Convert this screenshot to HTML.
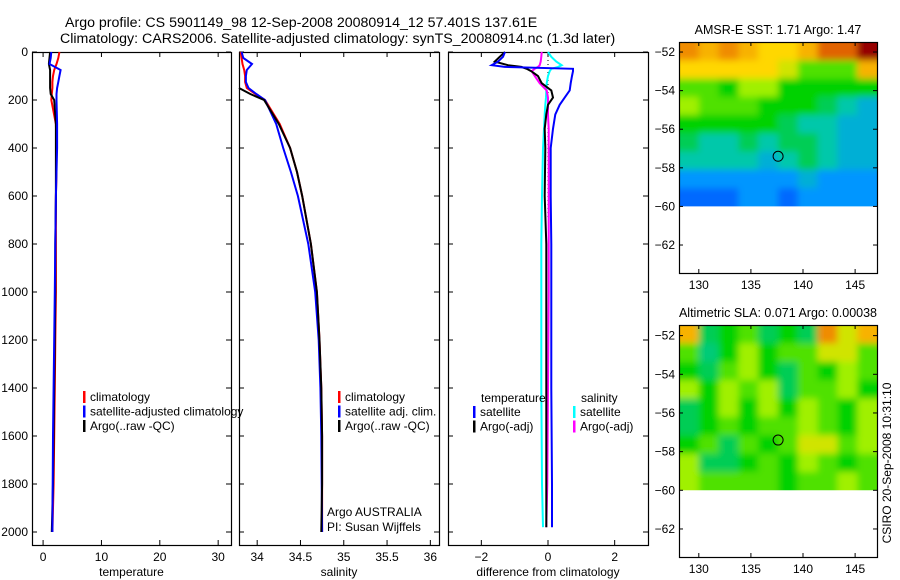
<!DOCTYPE html>
<html><head><meta charset="utf-8"><style>
html,body{margin:0;padding:0;background:#fff;}
svg{display:block;font-family:"Liberation Sans",sans-serif;font-size:12px;}
</style></head><body>
<svg id="c" width="900" height="580">
<defs><filter id="blur" x="-5%" y="-5%" width="110%" height="110%"><feGaussianBlur stdDeviation="3.5"/></filter></defs>
</svg>
<script>
// ---- data ----
const depths=[0,25,50,75,100,125,150,175,200,300,400,500,600,800,1000,1200,1400,1600,1800,2000];
const tempClim=[2.8,2.6,2.3,1.9,1.7,1.6,1.6,1.5,1.4,2.2,2.3,2.3,2.2,2.2,2.2,2.1,2.0,1.9,1.8,1.6];
const tempSat=[1.4,1.3,1.1,3.0,2.8,2.6,2.4,2.3,2.3,2.4,2.4,2.3,2.2,2.1,2.0,1.9,1.8,1.7,1.65,1.6];
const tempArgo=[1.2,1.1,1.0,1.2,1.2,1.2,1.2,1.3,1.9,2.2,2.2,2.2,2.2,2.1,2.1,2.0,1.9,1.8,1.7,1.5];
const salClim=[33.81,33.82,33.83,33.85,33.86,33.86,33.88,33.98,34.09,34.26,34.38,34.46,34.52,34.62,34.69,34.72,34.74,34.75,34.75,34.75];
const salSat=[33.82,33.84,33.94,33.88,33.87,33.87,33.9,33.99,34.09,34.22,34.30,34.39,34.47,34.59,34.67,34.71,34.73,34.74,34.745,34.75];
const salArgo=[null,null,null,null,null,null,33.79,33.92,34.08,34.25,34.38,34.46,34.52,34.62,34.69,34.72,34.74,34.75,34.75,34.74];
const diffDepths=[0,20,40,55,62,70,80,100,130,160,190,220,260,320,400,600,800,1000,1400,1800,1980];
const dTempSat=[-1.29,-1.35,-1.5,-1.69,-1.3,0.75,0.75,0.72,0.68,0.65,0.5,0.35,0.22,0.15,0.08,0.08,0.1,0.1,0.1,0.12,0.12];
const dTempArgo=[-1.29,-1.45,-1.6,-1.2,-0.8,-0.64,-0.5,-0.3,-0.19,0.1,0.15,0.0,-0.05,-0.1,-0.08,-0.1,-0.05,-0.05,-0.05,-0.05,-0.05];
const dSalSat=[0,0.1,0.25,0.41,0.3,0.1,0.05,0.0,-0.04,-0.05,-0.06,-0.08,-0.1,-0.12,-0.15,-0.18,-0.2,-0.2,-0.2,-0.18,-0.15];
const dSalArgo=[-0.19,-0.2,-0.22,-0.25,-0.3,-0.4,-0.49,-0.4,-0.25,-0.04,0.0,0.0,0.0,0.02,0.02,0.02,0.02,0.02,0.0,-0.02,-0.05];
const depthTicks=[0,200,400,600,800,1000,1200,1400,1600,1800,2000];
const tempTicks=[0,10,20,30];
const salTicks=[34,34.5,35,35.5,36];
const diffTicks=[-2,0,2];
const lonTicks=[130,135,140,145];
const latTicks=[-52,-54,-56,-58,-60,-62];
const sstGrid=[
[7.5,7,7.5,7,6.5,6.5,7,8,8,9.5],
[6.5,6.5,6.5,6.5,6.5,6,5,5,5,7],
[5,5,4.5,5.5,5.5,4.5,4.5,4.5,4.5,4.5],
[5.5,5,5,5,4.5,4.5,4.5,4,3.5,3],
[4.5,4.5,4.5,4.5,4.5,4,3.5,3.5,3,3],
[4,3.5,3.5,4,3.5,4,4,3.5,3,3],
[3.5,3.5,3.5,3.5,3,3.5,4,3.5,3,3],
[2.5,2.5,2.5,2.5,2.5,2.5,3,2.5,2.5,2.5],
[2,2,2,2.5,2.5,2,2.5,2.5,2.5,2.5]];
const slaGrid=[
[7,4,4.5,5,4,4.5,4,7.5,6,7],
[5,3.8,4.5,5.5,4.5,5,5,6,6,5],
[4.5,4,5,5.5,4.5,4,5,4.5,5.5,5],
[5.5,4.5,5.5,5,5.5,4,5,5,5.5,4.5],
[4,4.5,5.5,4.5,5.5,4.5,5.5,5,4.5,5.5],
[4,4.5,5,4.5,5,5,5.5,5,4.5,5.5],
[4.5,5,4,5,4.5,5,6,6,5,5.5],
[5.5,4,4,4.5,5,4.5,5.5,5,4.5,5],
[5.5,5,5,5,5,4.5,5,5,5.5,5]];
const argoLon=137.61, argoLat=-57.401;

const NS='http://www.w3.org/2000/svg';
const svg=document.getElementById('c');
function el(tag,attrs,parent){const e=document.createElementNS(NS,tag);for(const k in attrs)e.setAttribute(k,attrs[k]);(parent||svg).appendChild(e);return e;}
function txt(s,x,y,anchor,parent){const t=el('text',{x:x,y:y,'text-anchor':anchor||'start',fill:'#000'},parent);t.textContent=s;return t;}

// ---- profile panels ----
const Y0=52,Y1=545,DMAX=(545-52)/0.24;
function yD(d){return Y0+d*(Y1-Y0)/DMAX;}
function makePanel(name,x0,x1,xmin,xmax,xticks,xlabel,showY){
  const g=el('g',{});
  
  
  const sx=v=>x0+(v-xmin)*(x1-x0)/(xmax-xmin);
  const r=el('rect',{x:x0+.5,y:Y0+.5,width:x1-x0,height:Y1-Y0,fill:'none',stroke:'#000','stroke-width':1.2},g);
  
  xticks.forEach(v=>{const x=sx(v);
    el('line',{x1:x,x2:x,y1:Y1,y2:Y1-5,stroke:'#000'},g);el('line',{x1:x,x2:x,y1:Y0,y2:Y0+5,stroke:'#000'},g);
    const t=txt(String(v).replace('-','\u2212'),x,Y1+16,'middle',g);
    });
  depthTicks.forEach(d=>{const y=yD(d);
    el('line',{x1:x0,x2:x0+5,y1:y,y2:y,stroke:'#000'},g);el('line',{x1:x1-5,x2:x1,y1:y,y2:y,stroke:'#000'},g);
    if(showY){const t=txt(String(d),x0-4,y+4,'end',g);}});
  const xl=txt(xlabel,(x0+x1)/2,Y1+31,'middle',g);
  
  return {g,sx};
}
function line(p,vals,dep,color,name,w){
  let d='',pen=false;
  vals.forEach((v,i)=>{if(v===null){pen=false;return;}d+=(pen?'L':'M')+p.sx(v).toFixed(1)+','+yD(dep[i]).toFixed(1);pen=true;});
  const e=el('path',{d:d,fill:'none',stroke:color,'stroke-width':w||2},p.g);
  
}
function legend(p,items,x,y){
  items.forEach((it,i)=>{const r=el('rect',{x:x,y:y+i*14.5-10,width:2.5,height:12,fill:it[1]},p.g);
    
    const t=txt(it[0],x+7,y+i*14.5,'start',p.g);});
}
const p1=makePanel('temperature-panel',32,231,-1.9,32.2,tempTicks,'temperature',true);
line(p1,tempClim,depths,'#f00','temp-climatology-line');
line(p1,tempArgo,depths,'#000','temp-argo-line');
line(p1,tempSat,depths,'#00f','temp-satellite-line');
legend(p1,[['climatology','#f00'],['satellite-adjusted climatology','#00f'],['Argo(..raw -QC)','#000']],83,401);
const p2=makePanel('salinity-panel',239,439,33.79,36.1,salTicks,'salinity',false);
line(p2,salClim,depths,'#f00','sal-climatology-line');
line(p2,salSat,depths,'#00f','sal-satellite-line');
line(p2,salArgo,depths,'#000','sal-argo-line');
legend(p2,[['climatology','#f00'],['satellite adj. clim.','#00f'],['Argo(..raw -QC)','#000']],338,401);
let t=txt('Argo AUSTRALIA',327,516,'start',p2.g);
t=txt('PI: Susan Wijffels',327,531,'start',p2.g);
const p3=makePanel('difference-panel',448,648,-3,3,diffTicks,'difference from climatology',false);
const zl=el('line',{x1:p3.sx(0),x2:p3.sx(0),y1:Y0,y2:yD(700),stroke:'#000','stroke-dasharray':'1,3'},p3.g);

line(p3,dSalSat,diffDepths,'#0ff','sal-satellite-diff');
line(p3,dSalArgo,diffDepths,'#f0f','sal-argo-diff');
line(p3,dTempArgo,diffDepths,'#000','temp-argo-diff');
line(p3,dTempSat,diffDepths,'#00f','temp-satellite-diff');
t=txt('temperature',481,402,'start',p3.g);
t=txt('salinity',581,402,'start',p3.g);
legend(p3,[['satellite','#00f'],['Argo(-adj)','#000']],473,416);
legend(p3,[['satellite','#0ff'],['Argo(-adj)','#f0f']],573,416);

// ---- maps ----
function jet(v){ // v 0..10
  const s=[[0,[0,0,140]],[1.5,[0,60,255]],[2.5,[0,150,255]],[3.5,[0,200,170]],[4.5,[0,210,0]],[5.5,[160,240,0]],[6.5,[255,215,0]],[7.5,[240,140,0]],[8.5,[210,60,0]],[9.5,[150,0,0]],[10,[120,0,0]]];
  for(let i=1;i<s.length;i++){if(v<=s[i][0]){const f=(v-s[i-1][0])/(s[i][0]-s[i-1][0]);const a=s[i-1][1],b=s[i][1];return 'rgb('+a.map((c,k)=>Math.round(c+(b[k]-c)*f)).join(',')+')';}}
  return 'rgb(120,0,0)';
}
let mapCount=0;
function makeMap(name,title,x0,x1,y0,y1,latTop,latBot,grid){
  const g=el('g',{});
  const lonMin=128.1,lonMax=147.1;
  const sx=v=>x0+(v-lonMin)*(x1-x0)/(lonMax-lonMin);
  const sy=v=>y0+(latTop-v)*(y1-y0)/(latTop-latBot);
  const cid='clip'+(mapCount++);
  const cp=el('clipPath',{id:cid},svg.querySelector('defs'));
  el('rect',{x:x0,y:y0,width:x1-x0,height:sy(-60)-y0},cp);
  const clipG=el('g',{'clip-path':'url(#'+cid+')'},g);
  const cells=el('g',{filter:'url(#blur)'},clipG);
  const rows=grid.length,cols=grid[0].length,dLat=(latTop-(-60))/rows,dLon=(lonMax-lonMin)/cols;
  grid.forEach((row,i)=>row.forEach((v,j)=>{
    let xa=sx(lonMin+j*dLon),xb=sx(lonMin+(j+1)*dLon),ya=sy(latTop-i*dLat),yb=sy(latTop-(i+1)*dLat);
    if(j===0)xa-=8; if(j===cols-1)xb+=8; if(i===0)ya-=8; if(i===rows-1)yb+=8;
    const r=el('rect',{x:xa,y:ya,width:xb-xa+0.6,height:yb-ya+0.6,fill:jet(v)},cells);
    }));
  const f=el('rect',{x:x0+.5,y:y0+.5,width:x1-x0,height:y1-y0,fill:'none',stroke:'#000','stroke-width':1.2},g);
  
  lonTicks.forEach(v=>{const x=sx(v);el('line',{x1:x,x2:x,y1:y0,y2:y0+4,stroke:'#000'},g);el('line',{x1:x,x2:x,y1:y1,y2:y1-4,stroke:'#000'},g);
    const tt=txt(String(v),x,y1+16,'middle',g);});
  latTicks.forEach(v=>{const y=sy(v);el('line',{x1:x0,x2:x0+4,y1:y,y2:y,stroke:'#000'},g);el('line',{x1:x1-4,x2:x1,y1:y,y2:y,stroke:'#000'},g);
    const tt=txt(String(v).replace('-','\u2212'),x0-4,y+4,'end',g);});
  const c=el('circle',{cx:sx(argoLon),cy:sy(argoLat),r:5,fill:'none',stroke:'#000','stroke-width':1},g);
  
  const tt=txt(title,(x0+x1)/2,y0-8,'middle',g);
  tt.setAttribute('font-size','12.5');
}
makeMap('sst-map','AMSR-E SST: 1.71  Argo: 1.47',679,877,42,273,-51.48,-63.45,sstGrid);
makeMap('sla-map','Altimetric SLA: 0.071  Argo: 0.00038',679,877,325,557,-51.45,-63.45,slaGrid);

t=txt('Argo profile: CS 5901149_98 12-Sep-2008 20080914_12 57.401S 137.61E',65,27,'start');
t.setAttribute('font-size','14.2');

t=txt('Climatology: CARS2006. Satellite-adjusted climatology: synTS_20080914.nc (1.3d later)',60,43,'start');
t.setAttribute('font-size','14.2');

t=txt('CSIRO 20-Sep-2008 10:31:10',0,0,'middle');
t.setAttribute('transform','translate(891,463) rotate(-90)');

</script>
</body></html>
